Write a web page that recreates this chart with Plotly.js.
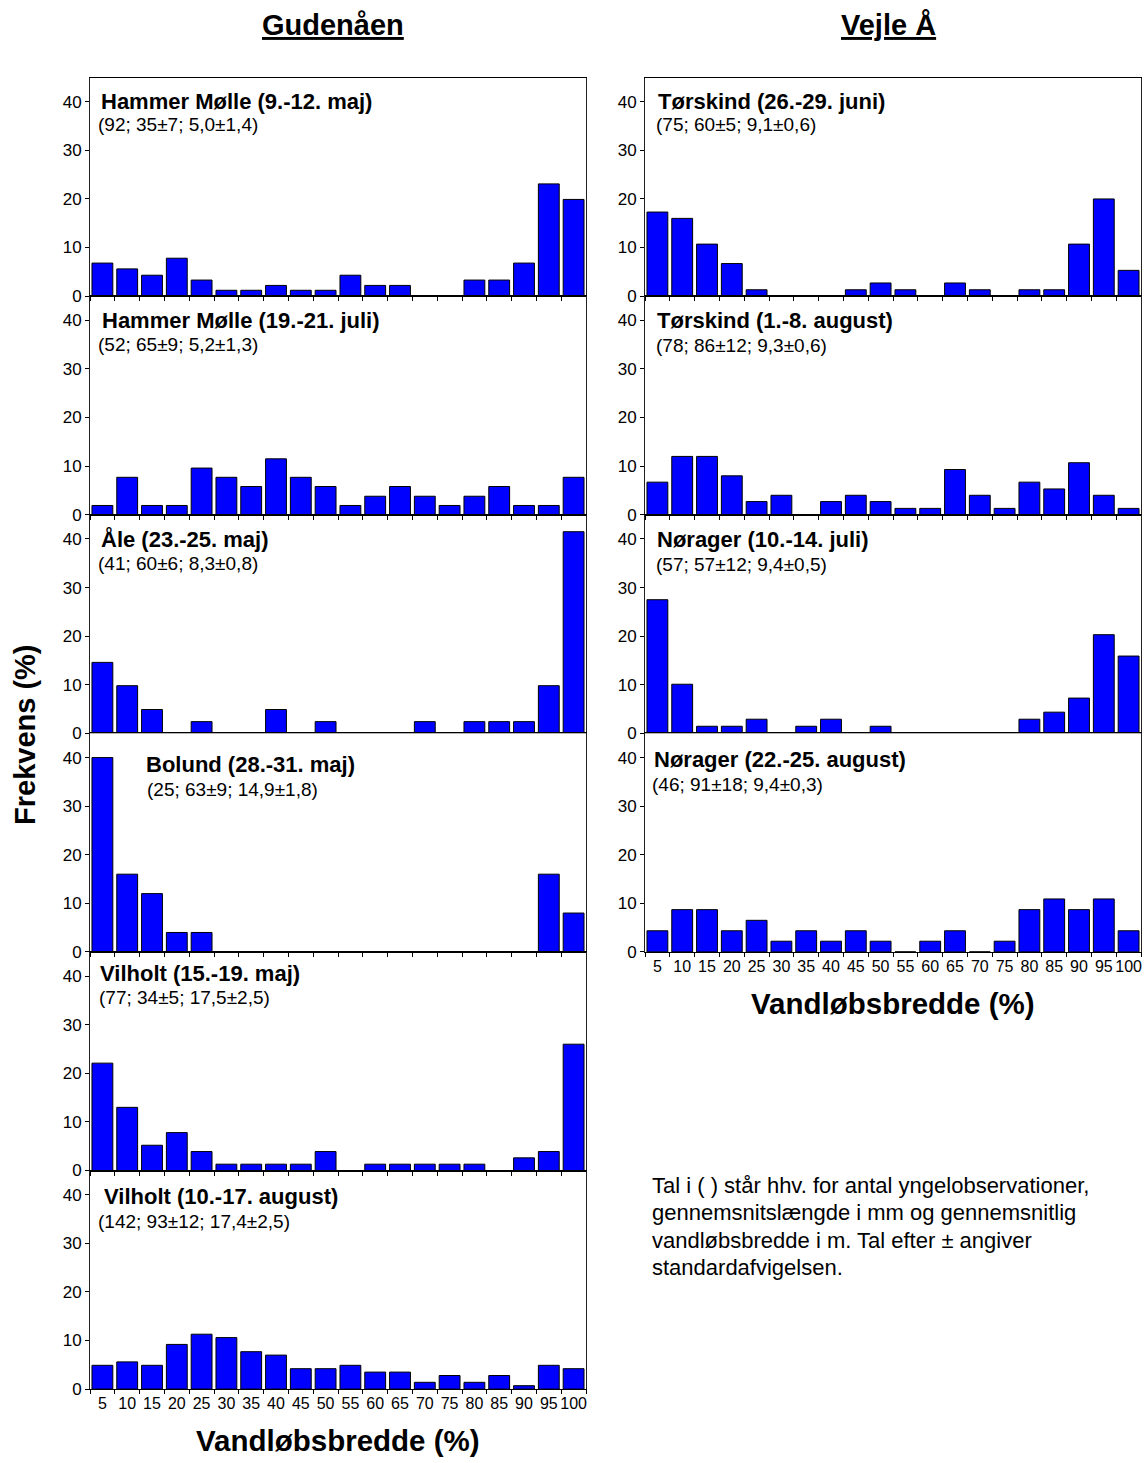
<!DOCTYPE html>
<html>
<head>
<meta charset="utf-8">
<script src="https://cdn.plot.ly/plotly-3.0.1.min.js"></script>
<style>html,body{margin:0;padding:0;background:#fff;}</style>
</head>
<body>
<div id="chart" style="width:1146px;height:1463px;"></div>
<script>
// ---------- DATA ----------
const categories = ['5','10','15','20','25','30','35','40','45','50','55','60','65','70','75','80','85','90','95','100'];
const yTicks = [0, 10, 20, 30, 40];

// Gudenåen
const hammerMolleMaj  = [6.8, 5.6, 4.3, 7.8, 3.3, 1.2, 1.2, 2.2, 1.2, 1.2, 4.3, 2.2, 2.2, 0, 0, 3.3, 3.3, 6.8, 23.1, 19.9];
const hammerMolleJuli = [1.9, 7.7, 1.9, 1.9, 9.6, 7.7, 5.8, 11.5, 7.7, 5.8, 1.9, 3.8, 5.8, 3.8, 1.9, 3.8, 5.8, 1.9, 1.9, 7.7];
const aleMaj          = [14.6, 9.8, 4.9, 0, 2.4, 0, 0, 4.9, 0, 2.4, 0, 0, 0, 2.4, 0, 2.4, 2.4, 2.4, 9.8, 41.5];
const bolundMaj       = [40, 16, 12, 4, 4, 0, 0, 0, 0, 0, 0, 0, 0, 0, 0, 0, 0, 0, 16, 8];
const vilholtMaj      = [22.1, 13.0, 5.2, 7.8, 3.9, 1.3, 1.3, 1.3, 1.3, 3.9, 0, 1.3, 1.3, 1.3, 1.3, 1.3, 0, 2.6, 3.9, 26.0];
const vilholtAugust   = [4.9, 5.6, 4.9, 9.2, 11.3, 10.6, 7.7, 7.0, 4.2, 4.2, 4.9, 3.5, 3.5, 1.4, 2.8, 1.4, 2.8, 0.7, 4.9, 4.2];
// Vejle Å
const torskindJuni    = [17.3, 16.0, 10.7, 6.7, 1.3, 0, 0, 0, 1.3, 2.7, 1.3, 0, 2.7, 1.3, 0, 1.3, 1.3, 10.7, 20.0, 5.3];
const torskindAugust  = [6.7, 12.0, 12.0, 8.0, 2.7, 4.0, 0, 2.7, 4.0, 2.7, 1.3, 1.3, 9.3, 4.0, 1.3, 6.7, 5.3, 10.7, 4.0, 1.3];
const noragerJuli     = [27.5, 10.1, 1.45, 1.45, 2.9, 0, 1.45, 2.9, 0, 1.45, 0, 0, 0, 0, 0, 2.9, 4.35, 7.25, 20.3, 15.9];
const noragerAugust   = [4.35, 8.7, 8.7, 4.35, 6.5, 2.2, 4.35, 2.2, 4.35, 2.2, 0, 2.2, 4.35, 0, 2.2, 8.7, 10.9, 8.7, 10.9, 4.35];

const panelSeries = [hammerMolleMaj, hammerMolleJuli, aleMaj, bolundMaj, vilholtMaj, vilholtAugust,
                     torskindJuni, torskindAugust, noragerJuli, noragerAugust];
const panelTitles = ['Hammer Mølle (9.-12. maj)', 'Hammer Mølle (19.-21. juli)', 'Åle (23.-25. maj)',
                     'Bolund (28.-31. maj)', 'Vilholt (15.-19. maj)', 'Vilholt (10.-17. august)',
                     'Tørskind (26.-29. juni)', 'Tørskind (1.-8. august)', 'Nørager (10.-14. juli)',
                     'Nørager (22.-25. august)'];
const panelStats  = ['(92; 35±7; 5,0±1,4)', '(52; 65±9; 5,2±1,3)', '(41; 60±6; 8,3±0,8)',
                     '(25; 63±9; 14,9±1,8)', '(77; 34±5; 17,5±2,5)', '(142; 93±12; 17,4±2,5)',
                     '(75; 60±5; 9,1±0,6)', '(78; 86±12; 9,3±0,6)', '(57; 57±12; 9,4±0,5)',
                     '(46; 91±18; 9,4±0,3)'];
const columnTitles = ['Gudenåen', 'Vejle Å'];
const yTitle = 'Frekvens (%)';
const xTitle = 'Vandløbsbredde (%)';
const noteLines = ['Tal i ( ) står hhv. for antal yngelobservationer,',
                   'gennemsnitslængde i mm og gennemsnitlig',
                   'vandløbsbredde i m. Tal efter ± angiver',
                   'standardafvigelsen.'];

// ---------- LAYOUT (pixels) ----------
const W = 1146, H = 1463;
const FONT = '"Liberation Sans", Arial, Helvetica, sans-serif';
const colX = [[90, 586], [645, 1141]];
const top0 = 77.5, ph = 218.6;
// column, row, title offset (x, dy), stats offset (x, dy)
const panelPos = [
  {c:0, r:0, tx:99,  ty:24,   sx:96,  sy:46.5},
  {c:0, r:1, tx:100, ty:24,   sx:96,  sy:48},
  {c:0, r:2, tx:99,  ty:24,   sx:96,  sy:49},
  {c:0, r:3, tx:144, ty:31.5, sx:145, sy:56.5},
  {c:0, r:4, tx:98,  ty:22,   sx:97,  sy:45.5},
  {c:0, r:5, tx:102, ty:25.5, sx:96,  sy:51},
  {c:1, r:0, tx:656, ty:24,   sx:654, sy:47},
  {c:1, r:1, tx:655, ty:24.5, sx:654, sy:49},
  {c:1, r:2, tx:655, ty:24.5, sx:654, sy:49.5},
  {c:1, r:3, tx:652, ty:26,   sx:650, sy:51}
];
const bottomPanels = [5, 9];

const px = v => v / W;
const py = v => 1 - v / H;

const traces = [];
const layout = {
  width: W, height: H,
  margin: {l:0, r:0, t:0, b:0},
  paper_bgcolor: '#fff', plot_bgcolor: '#fff',
  showlegend: false,
  bargap: 0.16,
  font: {family: FONT, color: '#000'},
  annotations: []
};

panelSeries.forEach((series, i) => {
  const p = panelPos[i];
  const sfx = i === 0 ? '' : String(i + 1);
  traces.push({
    type: 'bar', x: categories, y: series,
    xaxis: 'x' + sfx, yaxis: 'y' + sfx,
    marker: {color: '#0000ff', line: {color: '#000', width: 1}},
    hoverinfo: 'skip'
  });
  const top = top0 + p.r * ph, bot = top + ph;
  const showX = bottomPanels.includes(i);
  layout['xaxis' + sfx] = {
    domain: [px(colX[p.c][0]), px(colX[p.c][1])],
    anchor: 'y' + sfx,
    type: 'category', categoryorder: 'array', categoryarray: categories,
    range: [-0.5, categories.length - 0.5],
    tickson: 'boundaries', ticks: 'outside', ticklen: 4, tickcolor: '#000', tickwidth: 1,
    showline: true, linecolor: '#000', linewidth: 1, mirror: true,
    showgrid: false, zeroline: false,
    showticklabels: showX, tickangle: 0,
    tickfont: {family: FONT, size: 16, color: '#000'},
    fixedrange: true
  };
  layout['yaxis' + sfx] = {
    domain: [py(bot), py(top)],
    anchor: 'x' + sfx,
    range: [0, 45], tickvals: yTicks,
    ticks: 'outside', ticklen: 4, tickcolor: '#000', tickwidth: 1,
    showline: true, linecolor: '#222', linewidth: 1, mirror: true,
    showgrid: false, zeroline: false,
    tickfont: {family: FONT, size: 17, color: '#000'},
    fixedrange: true
  };
  layout.annotations.push({
    xref: 'paper', yref: 'paper', x: px(p.tx), y: py(top + p.ty),
    xanchor: 'left', yanchor: 'middle', showarrow: false,
    text: '<b>' + panelTitles[i] + '</b>',
    font: {family: FONT, size: 22, color: '#000'}
  });
  layout.annotations.push({
    xref: 'paper', yref: 'paper', x: px(p.sx), y: py(top + p.sy),
    xanchor: 'left', yanchor: 'middle', showarrow: false,
    text: panelStats[i],
    font: {family: FONT, size: 19, color: '#000'}
  });
});

// Column headers
[[333, 25], [888, 25]].forEach((pos, k) => {
  layout.annotations.push({
    xref: 'paper', yref: 'paper', x: px(pos[0]), y: py(pos[1]),
    xanchor: 'center', yanchor: 'middle', showarrow: false,
    text: '<b><u>' + columnTitles[k] + '</u></b>',
    font: {family: FONT, size: 29, color: '#000'}
  });
});
// Y title
layout.annotations.push({
  xref: 'paper', yref: 'paper', x: px(25), y: py(735),
  xanchor: 'center', yanchor: 'middle', showarrow: false, textangle: -90,
  text: '<b>' + yTitle + '</b>',
  font: {family: FONT, size: 29, color: '#000'}
});
// X titles
[[338, 1440], [893, 1003]].forEach(pos => {
  layout.annotations.push({
    xref: 'paper', yref: 'paper', x: px(pos[0]), y: py(pos[1]),
    xanchor: 'center', yanchor: 'middle', showarrow: false,
    text: '<b>' + xTitle + '</b>',
    font: {family: FONT, size: 29.5, color: '#000'}
  });
});
// Note
const noteY = [1185, 1212, 1240, 1267];
noteLines.forEach((line, k) => {
  layout.annotations.push({
    xref: 'paper', yref: 'paper', x: px(650), y: py(noteY[k]),
    xanchor: 'left', yanchor: 'middle', showarrow: false,
    text: line,
    font: {family: FONT, size: 22, color: '#000'}
  });
});

Plotly.newPlot('chart', traces, layout, {staticPlot: true, displayModeBar: false});
</script>
</body>
</html>
